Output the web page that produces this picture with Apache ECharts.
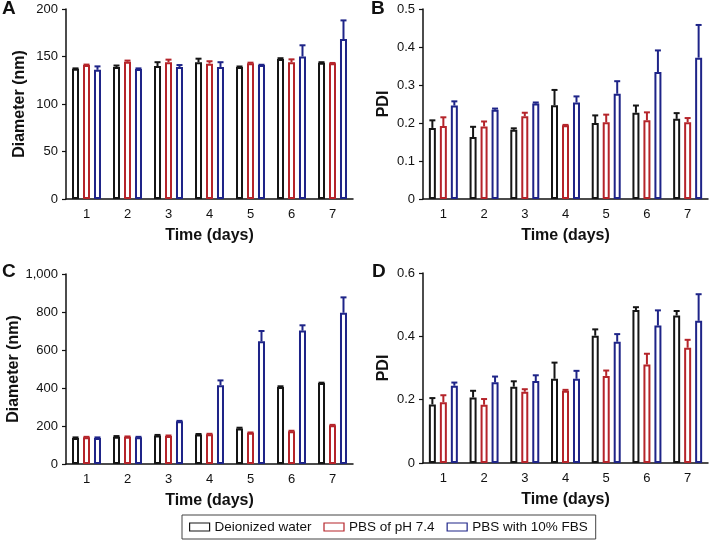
<!DOCTYPE html>
<html><head><meta charset="utf-8">
<script src="https://cdn.jsdelivr.net/npm/echarts@6/dist/echarts.min.js"></script>
<style>html,body{margin:0;padding:0;background:#fff}#c{width:711px;height:542px}</style>
</head><body><div id="c"></div>
<script>
const days = ['1','2','3','4','5','6','7'];
const seriesNames = ['Deionized water','PBS of pH 7.4','PBS with 10% FBS'];

// Panel A: diameter (nm)
const aWater = [137,139,140,144,139,147.5,143.5];
const aWaterErr = [0.5,1.5,4,3.7,0.5,0.7,0.5];
const aPbs = [141,144.5,144,142.5,143,144,142.8];
const aPbsErr = [0.5,1.2,2.7,2.5,0.5,3,0.4];
const aFbs = [136,136.8,139,139,141,150,168.4];
const aFbsErr = [3.6,0.7,2,5,0.3,11.8,19.6];

// Panel B: PDI
const bWater = [0.187,0.163,0.182,0.247,0.200,0.227,0.211];
const bWaterErr = [0.020,0.027,0.004,0.040,0.020,0.019,0.015];
const bPbs = [0.192,0.191,0.218,0.194,0.202,0.207,0.202];
const bPbsErr = [0.023,0.013,0.009,0.001,0.020,0.021,0.011];
const bFbs = [0.246,0.235,0.251,0.254,0.277,0.334,0.372];
const bFbsErr = [0.011,0.003,0.003,0.016,0.033,0.057,0.086];

// Panel C: diameter (nm)
const cWater = [137,144,150,155,187,405,426];
const cWaterErr = [3,3,3,3,4,4,2];
const cPbs = [141,143,148,157,164,173,204];
const cPbsErr = [2,2,2,2,2,2,2];
const cFbs = [137,141,225,415,646,702,796];
const cFbsErr = [3,2,2,25,54,28,81];

// Panel D: PDI
const dWater = [0.185,0.207,0.241,0.266,0.402,0.483,0.466];
const dWaterErr = [0.020,0.021,0.017,0.051,0.020,0.009,0.014];
const dPbs = [0.192,0.184,0.225,0.228,0.275,0.311,0.364];
const dPbsErr = [0.022,0.018,0.008,0.003,0.017,0.034,0.025];
const dFbs = [0.244,0.255,0.259,0.266,0.383,0.434,0.449];
const dFbsErr = [0.010,0.018,0.018,0.025,0.024,0.048,0.084];

const yTicksA = {min:0,max:200,interval:50};
const yTicksB = {min:0,max:0.5,interval:0.1};
const yTicksC = {min:0,max:1000,interval:200};
const yTicksD = {min:0,max:0.6,interval:0.2};

const panels = [
  {means:[aWater,aPbs,aFbs], errs:[aWaterErr,aPbsErr,aFbsErr], y:yTicksA, name:'Diameter (nm)', letter:'A'},
  {means:[bWater,bPbs,bFbs], errs:[bWaterErr,bPbsErr,bFbsErr], y:yTicksB, name:'PDI', letter:'B'},
  {means:[cWater,cPbs,cFbs], errs:[cWaterErr,cPbsErr,cFbsErr], y:yTicksC, name:'Diameter (nm)', letter:'C'},
  {means:[dWater,dPbs,dFbs], errs:[dWaterErr,dPbsErr,dFbsErr], y:yTicksD, name:'PDI', letter:'D'}
];

const colors = ['#151515','#b5242a','#1e2488'];
const FONT = "'Liberation Sans', Arial, Helvetica, sans-serif";
const BW = 7, GAP = 0.57;

const grids = [
  {left:66, top:9, width:287, height:190},
  {left:423, top:9, width:285, height:190},
  {left:66, top:274, width:287, height:190},
  {left:423, top:273, width:285, height:190}
];
const nameGaps = [38, 31, 38, 31];

const xAxes = [], yAxes = [], series = [];
panels.forEach((p, gi) => {
  xAxes.push({
    type:'category', gridIndex:gi, data:days,
    name:'Time (days)', nameLocation:'middle', nameGap:29,
    nameTextStyle:{fontFamily:FONT, fontWeight:'bold', fontSize:16, color:'#111'},
    axisLine:{lineStyle:{color:'#111', width:1.5}},
    axisTick:{alignWithLabel:true, length:4, lineStyle:{color:'#111', width:1.2}},
    axisLabel:{fontFamily:FONT, fontSize:13, color:'#111', margin:9}
  });
  yAxes.push({
    type:'value', gridIndex:gi, min:p.y.min, max:p.y.max, interval:p.y.interval,
    name:p.name, nameLocation:'middle', nameGap:nameGaps[gi], nameRotate:90,
    nameTextStyle:{fontFamily:FONT, fontWeight:'bold', fontSize:16, color:'#111'},
    axisLine:{show:true, lineStyle:{color:'#111', width:1.5}},
    axisTick:{show:true, length:4, lineStyle:{color:'#111', width:1.2}},
    splitLine:{show:false},
    axisLabel:{fontFamily:FONT, fontSize:13, color:'#111', margin:8,
      formatter:v => v >= 1000 ? String(v).replace(/\B(?=(\d{3})+(?!\d))/g, ',') : String(+v.toFixed(2))}
  });
  for (let s = 0; s < 3; s++) {
    series.push({
      type:'bar', name:seriesNames[s], xAxisIndex:gi, yAxisIndex:gi,
      data:p.means[s], barWidth:BW, barGap:(GAP*100)+'%',
      itemStyle:{color:'#fff', borderColor:colors[s], borderWidth:2},
      emphasis:{disabled:true}, z:2
    });
  }
  const errData = [];
  for (let s = 0; s < 3; s++) {
    for (let i = 0; i < days.length; i++) {
      errData.push([i, s, p.means[s][i], p.means[s][i] + p.errs[s][i]]);
    }
  }
  series.push({
    type:'custom', name:'err'+gi, xAxisIndex:gi, yAxisIndex:gi, z:3,
    encode:{x:0, y:[2,3]},
    data:errData,
    renderItem:(params, api) => {
      const cat = api.value(0), s = api.value(1);
      const p0 = api.coord([cat, api.value(2)]);
      const p1 = api.coord([cat, api.value(3)]);
      const off = (s - 1) * (BW + BW * GAP);
      const x = p0[0] + off;
      const style = {stroke:colors[s], lineWidth:2};
      return {type:'group', children:[
        {type:'line', shape:{x1:x, y1:p0[1], x2:x, y2:p1[1]}, style:style},
        {type:'line', shape:{x1:x-3, y1:p1[1], x2:x+3, y2:p1[1]}, style:style}
      ]};
    }
  });
});

const letters = [
  {t:'A', x:2, y:9}, {t:'B', x:371, y:9}, {t:'C', x:2, y:272}, {t:'D', x:372, y:272}
];

const chart = echarts.init(document.getElementById('c'), null, {renderer:'canvas'});
chart.setOption({
  animation:false,
  backgroundColor:'#fff',
  grid:grids,
  xAxis:xAxes,
  yAxis:yAxes,
  series:series,
  legend:{
    left:182, top:515, orient:'horizontal',
    itemWidth:20, itemHeight:8, itemGap:12, icon:'rect',
    padding:[5,8,5,7], borderColor:'#444', borderWidth:1,
    textStyle:{fontFamily:FONT, fontSize:13.5, color:'#111'},
    selectedMode:false,
    data:seriesNames.map((n, i) => ({name:n, itemStyle:{color:'#fff', borderColor:colors[i], borderWidth:1.2}}))
  },
  graphic:letters.map(l => ({
    type:'text', left:l.x, top:l.y - 10,
    style:{text:l.t, font:"bold 19px " + FONT, fill:'#111'}
  }))
});
</script></body></html>
